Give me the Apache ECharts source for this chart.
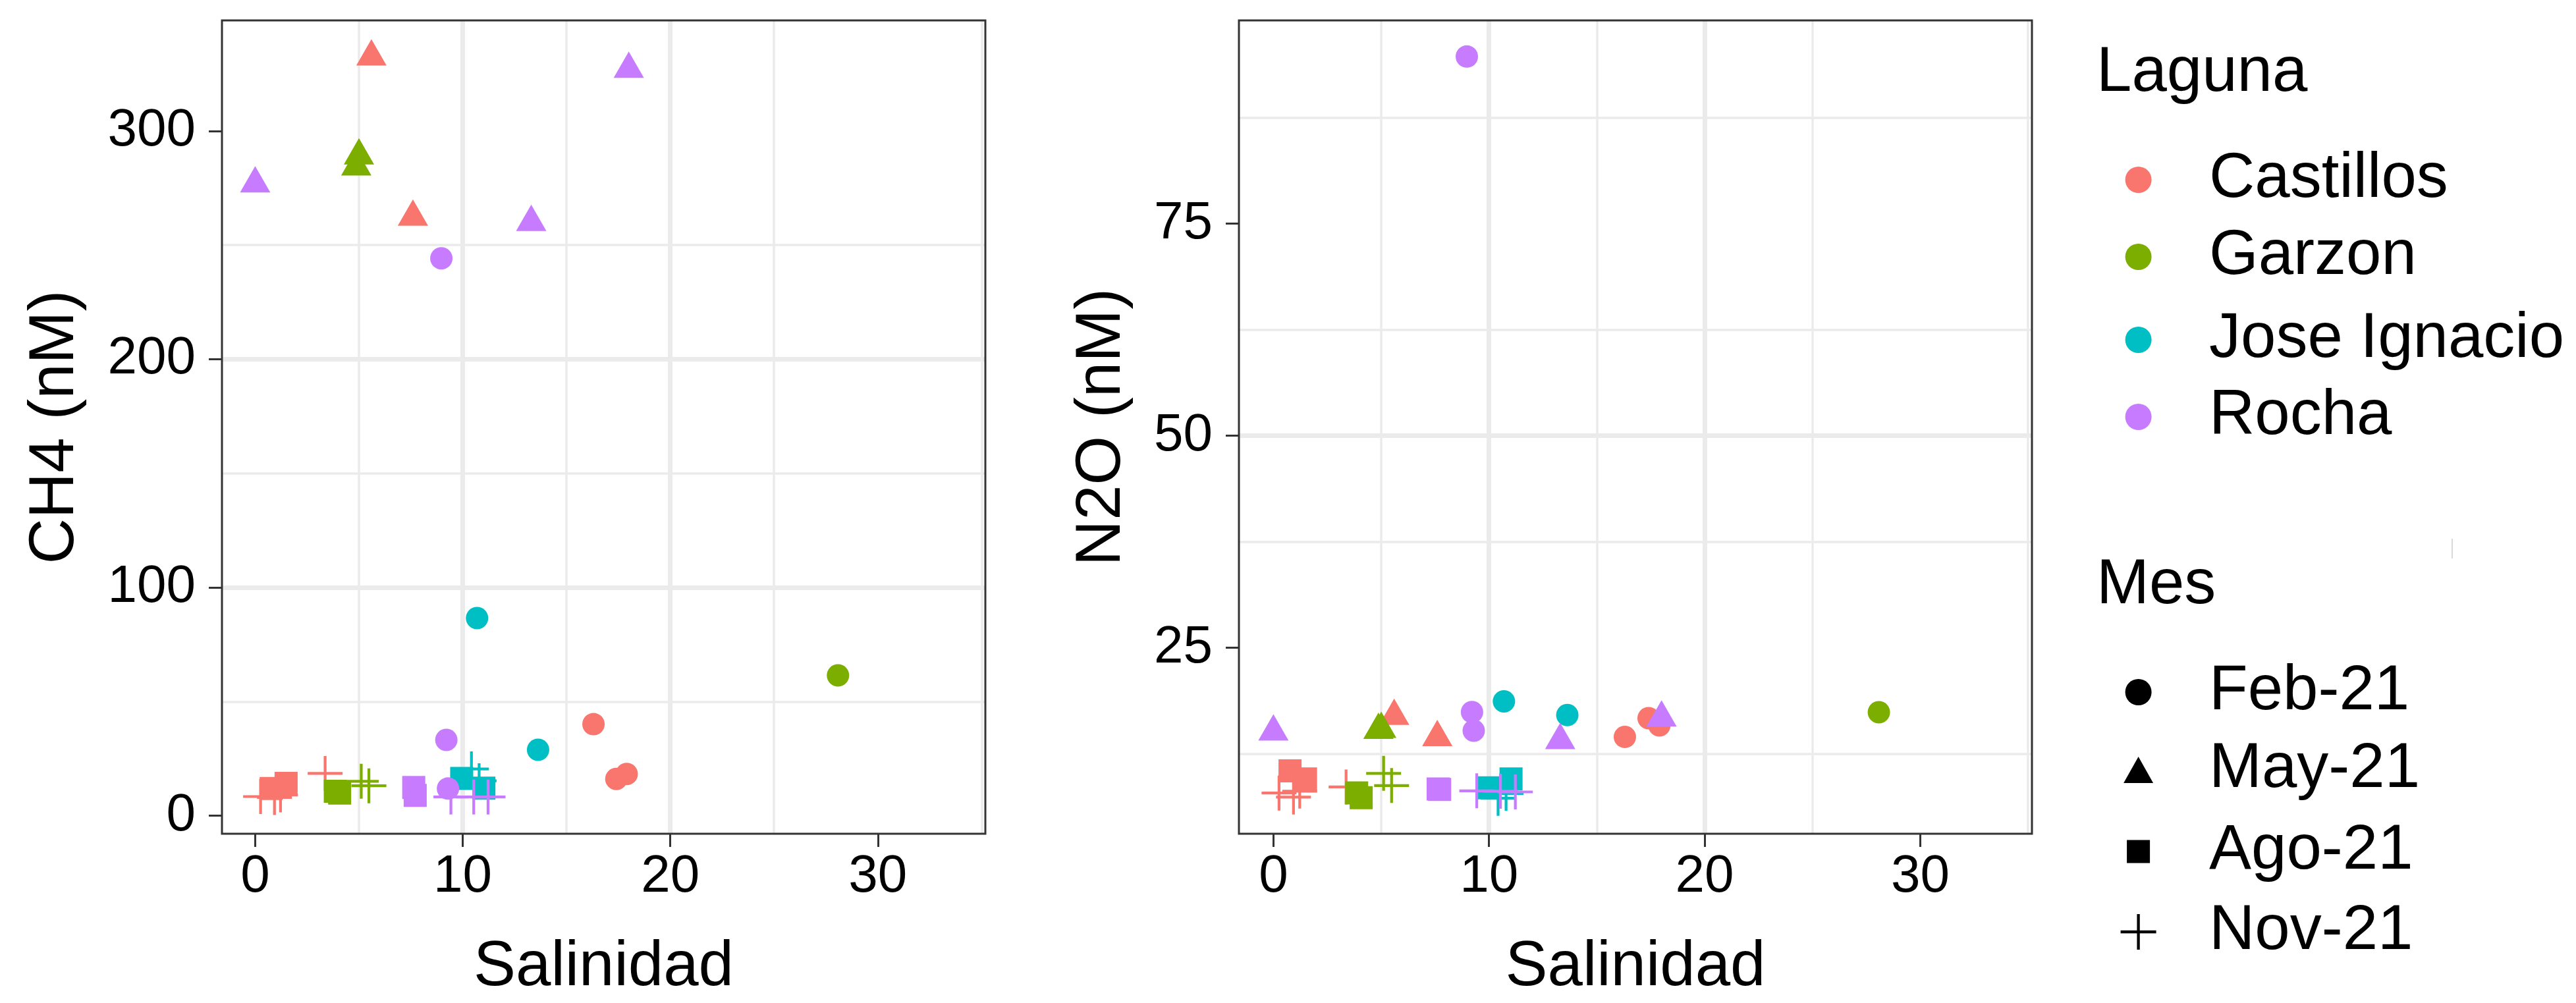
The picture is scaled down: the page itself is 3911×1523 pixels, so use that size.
<!DOCTYPE html>
<html><head><meta charset="utf-8">
<script src="https://cdn.jsdelivr.net/npm/echarts@6/dist/echarts.min.js"></script>
<style>html,body{margin:0;padding:0;background:#fff}#c{width:3911px;height:1523px}</style>
</head><body><div id="c"></div><script>
// ---- data ----
const lagunas = ['Castillos', 'Garzon', 'Jose Ignacio', 'Rocha'];
const colores = ['#F8766D', '#7CAE00', '#00BFC4', '#C77CFF'];
const meses = ['Feb-21', 'May-21', 'Ago-21', 'Nov-21'];
// one entry per sample
const lagunaIdx = [0,0,0, 0,0, 0,0, 0,0,0,0, 1, 1,1, 1,1, 1,1, 2,2, 2,2, 2,2, 3,3,3, 3,3,3, 3,3, 3,3,3];
const mesIdx    = [0,0,0, 1,1, 2,2, 3,3,3,3, 0, 1,1, 2,2, 3,3, 0,0, 2,2, 3,3, 0,0,0, 1,1,1, 2,2, 3,3,3];
const salinidad = [16.3,17.4,17.9, 5.6,7.6, 0.77,1.49, 0.26,0.93,1.22,3.37, 28.08, 5.0,4.87, 3.86,4.07, 5.11,5.48,
                   10.69,13.63, 9.95,11.02, 10.42,10.79, 8.97,9.21,9.29, 0.0,13.3,18.0, 7.64,7.71, 9.43,10.53,11.22];
const ch4 = [40.1,16.1,18.3, 332.5,262.3, 11.9,14.2, 8.4,8.0,9.1,18.5, 61.5, 289.1,284.3, 10.7,9.9, 15.1,13.1,
             86.6,28.9, 16.3,12.1, 20.5,15.3, 244.2,33.2,11.9, 276.9,260.0,327.1, 12.4,8.9, 8.2,8.2,8.2];
const n2o = [14.5,16.7,15.85, 16.95,14.43, 10.5,9.55, 7.88,7.4,8.1,8.6, 17.4, 15.4,15.3, 7.9,7.34, 10.2,8.76,
             18.68,17.08, 8.5,9.55, 7.26,7.83, 94.7,17.42,15.23, 15.09,14.08,16.75, 8.35,8.3, 8.14,8.09,8.01];
const xTicks = [0, 10, 20, 30];
const ch4Ticks = [0, 100, 200, 300];
const n2oTicks = [25, 50, 75];

// ---- styling ----
const FONT = 'Liberation Sans, Arial, Helvetica, sans-serif';
const TRI = 'path://M50,0L100,88.9L0,88.9Z';
const SQUARE = 'path://M0,0h100v100h-100z';
const CROSS = 'path://M46,0h8v100h-8zM0,46h100v8h-100z';
const plotSymbols = ['circle', TRI, SQUARE, CROSS];
const plotSizes = [34, [46, 40], 35, 53];
const plotOffsets = [[0, 0], [0, -6.7], [0, 0], [0, 0]];
const legendIconW = [40, 45, 35, 54];
const legendIconH = [40, 40, 35, 54];

const panels = [
  { vals: ch4, name: 'CH4 (nM)', min: -7.9, max: 348.4, step: 100, ticks: ch4Ticks, gap: 204,
    grid: { left: 337, top: 31, width: 1159, height: 1245 } },
  { vals: n2o, name: 'N2O (nM)', min: 3.08, max: 98.96, step: 25, ticks: n2oTicks, gap: 159,
    grid: { left: 1881, top: 31, width: 1204, height: 1245 } }
];

const grid = [], xAxis = [], yAxis = [], series = [];
const gridLine = { lineStyle: { color: '#EBEBEB', width: 7 }, showMinLine: false, showMaxLine: false };
const minorLine = { show: true, lineStyle: { color: '#EBEBEB', width: 3.5 } };
const tick = { show: true, length: 20, lineStyle: { color: '#333333', width: 3 } };

panels.forEach((p, pi) => {
  grid.push(Object.assign({ show: true, borderColor: '#333333', borderWidth: 3,
    backgroundColor: 'transparent', z: 10 }, p.grid));
  xAxis.push({
    gridIndex: pi, type: 'value', min: -1.6, max: 35.18, minInterval: 10, maxInterval: 10,
    axisLine: { show: false, onZero: false },
    axisTick: Object.assign({ customValues: xTicks }, tick),
    axisLabel: { customValues: xTicks, fontSize: 80, color: '#000', margin: 26, fontFamily: FONT },
    splitLine: gridLine, minorTick: { show: false, splitNumber: 2 }, minorSplitLine: minorLine,
    name: 'Salinidad', nameLocation: 'middle', nameGap: 156,
    nameTextStyle: { fontSize: 96, color: '#000', fontFamily: FONT }
  });
  yAxis.push({
    gridIndex: pi, type: 'value', min: p.min, max: p.max, minInterval: p.step, maxInterval: p.step,
    axisLine: { show: false, onZero: false },
    axisTick: Object.assign({ customValues: p.ticks }, tick),
    axisLabel: { customValues: p.ticks, fontSize: 80, color: '#000', margin: 40, fontFamily: FONT },
    splitLine: gridLine, minorTick: { show: false, splitNumber: 2 }, minorSplitLine: minorLine,
    name: p.name, nameLocation: 'middle', nameRotate: 90, nameGap: p.gap,
    nameTextStyle: { fontSize: 96, color: '#000', fontFamily: FONT }
  });
  lagunas.forEach((lg, li) => {
    meses.forEach((m, mi) => {
      const data = [];
      salinidad.forEach((s, i) => {
        if (lagunaIdx[i] === li && mesIdx[i] === mi) data.push([s, p.vals[i]]);
      });
      if (!data.length) return;
      series.push({
        type: 'scatter', name: p.name + ' ' + lg + ' ' + m, xAxisIndex: pi, yAxisIndex: pi,
        symbol: plotSymbols[mi], symbolSize: plotSizes[mi], symbolOffset: plotOffsets[mi],
        itemStyle: { color: colores[li], opacity: 1 }, data: data, silent: true
      });
    });
  });
});

// legend-only series
lagunas.forEach((lg, li) => series.push({ type: 'scatter', name: lg, data: [], symbol: 'circle',
  itemStyle: { color: colores[li], opacity: 1 } }));
meses.forEach((m, mi) => series.push({ type: 'scatter', name: m, data: [], symbol: plotSymbols[mi],
  itemStyle: { color: '#000', opacity: 1 } }));

const iconCenterX = 3246.6, textX = 3354;
const lagunaTop = [225, 342, 468, 585];
const mesTop = [1003, 1121, 1245, 1367];
const legend = [];
function legendItem(name, icon, w, h, top) {
  const left = iconCenterX - w / 2;
  return {
    left: left, top: top, padding: 0, orient: 'vertical', selectedMode: false,
    itemWidth: w, itemHeight: h, symbolKeepAspect: true,
    data: [{ name: name, icon: icon }],
    textStyle: { fontSize: 96, color: '#000', fontFamily: FONT,
      padding: [0, 0, 0, textX - (left + w + 5)] }
  };
}
lagunas.forEach((lg, li) => legend.push(legendItem(lg, 'circle', 40, 40, lagunaTop[li])));
meses.forEach((m, mi) => legend.push(legendItem(m, plotSymbols[mi], legendIconW[mi], legendIconH[mi], mesTop[mi])));

const titleStyle = { fontSize: 96, fontWeight: 'normal', color: '#000', fontFamily: FONT };
const chart = echarts.init(document.getElementById('c'), null, { renderer: 'canvas' });
chart.setOption({
  backgroundColor: '#ffffff',
  animation: false,
  title: [
    { text: 'Laguna', left: 3183, top: 64, padding: 0, textStyle: titleStyle },
    { text: 'Mes', left: 3183, top: 842, padding: 0, textStyle: titleStyle }
  ],
  grid: grid, xAxis: xAxis, yAxis: yAxis, legend: legend, series: series,
  graphic: [{ type: 'line', shape: { x1: 3723, y1: 818, x2: 3723, y2: 848 },
    style: { stroke: '#D9D9D9', lineWidth: 2 }, silent: true }]
});
</script></body></html>
